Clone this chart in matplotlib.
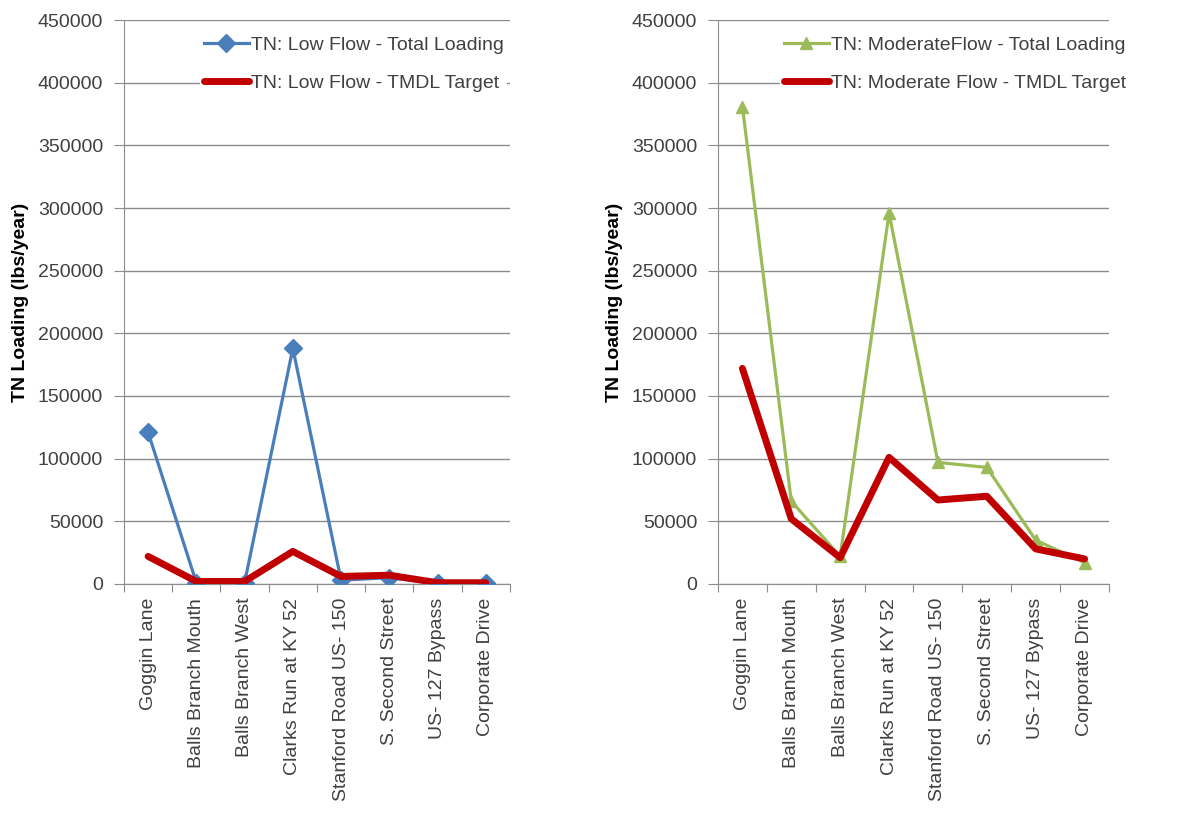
import matplotlib.pyplot as plt
import numpy as np

# Sampling sites along the stream
sites = ['Goggin Lane', 'Balls Branch Mouth', 'Balls Branch West',
         'Clarks Run at KY 52', 'Stanford Road US- 150', 'S. Second Street',
         'US- 127 Bypass', 'Corporate Drive']

# TN loads in lbs/year
low_total = [121000, 1000, 1000, 188000, 3000, 5000, 500, 500]
low_target = [22000, 2000, 2000, 26000, 6000, 7000, 1000, 1000]
mod_total = [381000, 66000, 22000, 296000, 97000, 93000, 35000, 17000]
mod_target = [172000, 52000, 21000, 101000, 67000, 70000, 28000, 20000]

yticks = [0, 50000, 100000, 150000, 200000, 250000, 300000, 350000, 400000, 450000]

plt.rcParams['font.family'] = ['Liberation Sans', 'DejaVu Sans']

fig = plt.figure(figsize=(11.97, 8.21), dpi=100)
ax1 = fig.add_axes([0.1036, 0.2887, 0.3224, 0.6869])
ax2 = fig.add_axes([0.5998, 0.2887, 0.3267, 0.6869])

panels = [
    (ax1, low_total, low_target, '#4A7EBB', 'D', 0.197,
     'TN: Low Flow - Total Loading', 'TN: Low Flow - TMDL Target'),
    (ax2, mod_total, mod_target, '#9BBB59', '^', 0.159,
     'TN: ModerateFlow - Total Loading', 'TN: Moderate Flow - TMDL Target'),
]

x = np.arange(len(sites))
for ax, total, target, color, marker, leg_x, lab_total, lab_target in panels:
    ax.plot(x, total, color=color, lw=2.3, marker=marker, markersize=9,
            label=lab_total, zorder=3)
    ax.plot(x, target, color='#C00000', lw=5.0, solid_capstyle='round',
            label=lab_target, zorder=4)

    ax.set_xlim(-0.5, len(sites) - 0.5)
    ax.set_ylim(0, 450000)
    ax.set_yticks(yticks)
    ax.set_yticklabels([str(v) for v in yticks])
    ax.grid(axis='y', color='#8C8C8C', lw=1.0)
    ax.set_axisbelow(True)

    # category labels centred between tick marks at the boundaries
    ax.set_xticks(np.arange(-0.5, len(sites), 1.0))
    ax.set_xticklabels([])
    ax.set_xticks(x, minor=True)
    ax.set_xticklabels(sites, minor=True, rotation=90, fontsize=14, color='#404040')
    ax.tick_params(axis='x', which='major', length=6, color='#8C8C8C')
    ax.tick_params(axis='x', which='minor', length=0, pad=10)
    ax.tick_params(axis='y', length=7, color='#8C8C8C', labelsize=14,
                   labelcolor='#404040', pad=8)

    for side in ['top', 'right']:
        ax.spines[side].set_visible(False)
    for side in ['left', 'bottom']:
        ax.spines[side].set_color('#8C8C8C')

    ax.set_ylabel('TN Loading (lbs/year)', fontsize=14, fontweight='bold', labelpad=6)

    leg = ax.legend(loc='upper left', bbox_to_anchor=(leg_x, 0.978), fontsize=14,
                    frameon=True, fancybox=False, handlelength=2.3,
                    handletextpad=0.1, labelspacing=1.05, borderaxespad=0.0,
                    borderpad=0.2)
    leg.get_frame().set_facecolor('white')
    leg.get_frame().set_edgecolor('none')
    leg.get_frame().set_alpha(1.0)
    for t in leg.get_texts():
        t.set_color('#404040')

fig.savefig('out.png', dpi=100)
